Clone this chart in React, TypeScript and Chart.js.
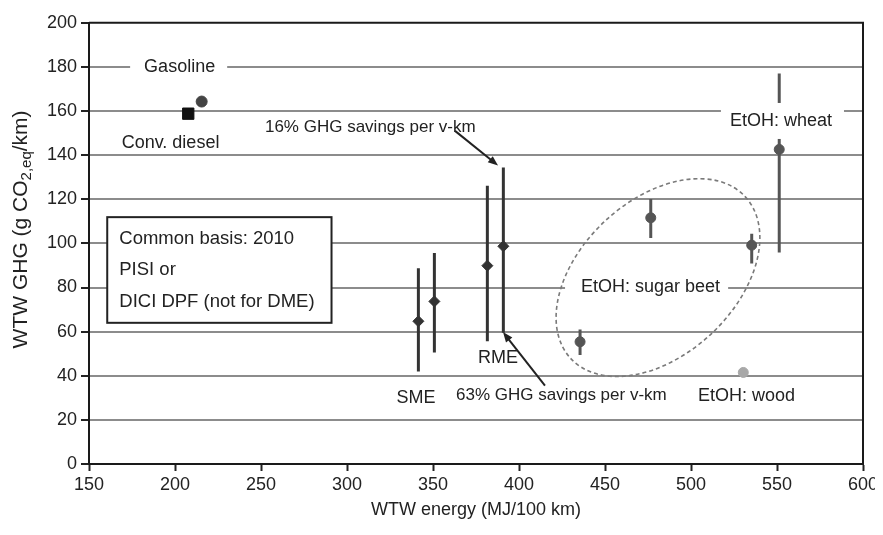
import { useEffect, useRef } from 'react';
import { Chart, registerables } from 'chart.js';

Chart.register(...registerables);

// ---- Data ----
// Biodiesel: SME (2 variants), RME (2 variants)
const bioX = [341.5, 350.8, 381.6, 390.9];
const bioY = [64.7, 73.7, 89.9, 98.7];
const bioLow = [41.9, 50.5, 55.7, 59.5];
const bioHigh = [88.7, 95.7, 126.1, 134.4];

// Ethanol: sugar beet (3 variants), wheat
const etohX = [435.5, 476.6, 535.3, 551.3];
const etohY = [55.4, 111.6, 99.2, 142.6];
const etohLow = [49.4, 102.5, 90.9, 95.9];
const etohHigh = [61.0, 120.1, 104.4, 177];

// Reference fuels and wood ethanol
const gasolineX = [215.5];
const gasolineY = [164.3];
const dieselX = [207.7];
const dieselY = [158.8];
const woodX = [530.4];
const woodY = [41.5];

// Axes
const xMin = 150, xMax = 600, xStep = 50;
const yMin = 0, yMax = 200, yStep = 20;
const xTitle = 'WTW energy (MJ/100 km)';
const yTitleMain = 'WTW GHG (g CO';
const yTitleSub = '2,eq';
const yTitleEnd = '/km)';

const legendLines = ['Common basis: 2010', 'PISI or', 'DICI DPF (not for DME)'];

const FONT = "'Liberation Sans', Arial, sans-serif";
const TXT = '#222';

type Lbl = { text: string; x: number; y: number; align?: CanvasTextAlign; size?: number; box?: boolean; padL?: number; padR?: number; padY?: number };
const labels: Lbl[] = [
  { text: 'Gasoline', x: 202.7, y: 180, box: true, padL: 14, padR: 12 },
  { text: 'Conv. diesel', x: 197.4, y: 145.6, box: true, padL: 17, padR: 7 },
  { text: '16% GHG savings per v-km', x: 252.3, y: 152.4, align: 'left', size: 17 },
  { text: '63% GHG savings per v-km', x: 363.4, y: 31, align: 'left', size: 17 },
  { text: 'SME', x: 340.1, y: 30.1 },
  { text: 'RME', x: 387.8, y: 48.1 },
  { text: 'EtOH: wheat', x: 552.3, y: 155.5, box: true, padL: 9, padR: 12, padY: 18 },
  { text: 'EtOH: sugar beet', x: 476.5, y: 80.4, box: true, padL: 16, padR: 8 },
  { text: 'EtOH: wood', x: 532.3, y: 31 },
];

const arrows = [
  { x1: 362.8, y1: 151, x2: 387.8, y2: 135.3 },
  { x1: 415.1, y1: 35.5, x2: 390.7, y2: 59.8 },
];

const legendBox = { x1: 160.6, x2: 291, y1: 111.9, y2: 64, textX: 167.6, lineY: [102.2, 88, 73.7] };
const ellipse = { cx: 480.8, cy: 84.5, rx: 119, ry: 77.5, rot: -42.9 };

function bars(xs: number[], lo: number[], hi: number[]) {
  const out: { x: number; y: number | null }[] = [];
  xs.forEach((x, i) => {
    out.push({ x, y: lo[i] }, { x, y: hi[i] }, { x, y: null });
  });
  return out;
}
function pts(xs: number[], ys: number[]) {
  return xs.map((x, i) => ({ x, y: ys[i] }));
}

const annotationPlugin = {
  id: 'annot',
  afterDatasetsDraw(chart: any) {
    const { ctx, scales, chartArea } = chart;
    const sx = (v: number) => scales.x.getPixelForValue(v);
    const sy = (v: number) => scales.y.getPixelForValue(v);
    ctx.save();
    // text labels
    labels.forEach((l) => {
      const size = l.size ?? 18;
      ctx.font = `${size}px ${FONT}`;
      const w = ctx.measureText(l.text).width;
      const px = sx(l.x);
      const py = sy(l.y);
      const align = l.align ?? 'center';
      const left = align === 'left' ? px : px - w / 2;
      if (l.box) {
        const pl = l.padL ?? 12, pr = l.padR ?? 12, pyd = l.padY ?? 10;
        ctx.fillStyle = '#fff';
        ctx.fillRect(left - pl, py - pyd, w + pl + pr, pyd * 2);
      }
      ctx.fillStyle = TXT;
      ctx.textAlign = 'left';
      ctx.textBaseline = 'middle';
      ctx.fillText(l.text, left, py);
    });
    // legend box
    const bx1 = sx(legendBox.x1), bx2 = sx(legendBox.x2);
    const by1 = sy(legendBox.y1), by2 = sy(legendBox.y2);
    ctx.fillStyle = '#fff';
    ctx.fillRect(bx1, by1, bx2 - bx1, by2 - by1);
    ctx.strokeStyle = '#222';
    ctx.lineWidth = 2;
    ctx.strokeRect(bx1, by1, bx2 - bx1, by2 - by1);
    ctx.font = `18.5px ${FONT}`;
    ctx.fillStyle = TXT;
    ctx.textAlign = 'left';
    ctx.textBaseline = 'middle';
    legendLines.forEach((t, i) => ctx.fillText(t, sx(legendBox.textX), sy(legendBox.lineY[i])));
    // ellipse
    ctx.beginPath();
    ctx.setLineDash([4, 3]);
    ctx.strokeStyle = '#7a7a7a';
    ctx.lineWidth = 1.6;
    ctx.ellipse(sx(ellipse.cx), sy(ellipse.cy), ellipse.rx, ellipse.ry, (ellipse.rot * Math.PI) / 180, 0, Math.PI * 2);
    ctx.stroke();
    ctx.setLineDash([]);
    // arrows
    arrows.forEach((a) => {
      const x1 = sx(a.x1), y1 = sy(a.y1), x2 = sx(a.x2), y2 = sy(a.y2);
      const ang = Math.atan2(y2 - y1, x2 - x1);
      ctx.strokeStyle = '#222';
      ctx.lineWidth = 2;
      ctx.beginPath();
      ctx.moveTo(x1, y1);
      ctx.lineTo(x2 - 6 * Math.cos(ang), y2 - 6 * Math.sin(ang));
      ctx.stroke();
      ctx.fillStyle = '#222';
      ctx.beginPath();
      ctx.moveTo(x2, y2);
      ctx.lineTo(x2 - 10 * Math.cos(ang) + 4 * Math.sin(ang), y2 - 10 * Math.sin(ang) - 4 * Math.cos(ang));
      ctx.lineTo(x2 - 10 * Math.cos(ang) - 4 * Math.sin(ang), y2 - 10 * Math.sin(ang) + 4 * Math.cos(ang));
      ctx.closePath();
      ctx.fill();
    });
    // frame (top and right)
    ctx.strokeStyle = '#1a1a1a';
    ctx.lineWidth = 2;
    ctx.beginPath();
    ctx.moveTo(chartArea.left, chartArea.top);
    ctx.lineTo(chartArea.right, chartArea.top);
    ctx.lineTo(chartArea.right, chartArea.bottom);
    ctx.stroke();
    // y title with subscript
    const cy = (chartArea.top + chartArea.bottom) / 2 - 14;
    ctx.translate(11, cy);
    ctx.rotate(-Math.PI / 2);
    ctx.font = `21px ${FONT}`;
    const w1 = ctx.measureText(yTitleMain).width;
    const w3 = ctx.measureText(yTitleEnd).width;
    ctx.font = `15px ${FONT}`;
    const w2 = ctx.measureText(yTitleSub).width;
    const total = w1 + w2 + w3;
    let xx = -total / 2;
    ctx.fillStyle = TXT;
    ctx.textBaseline = 'alphabetic';
    ctx.font = `21px ${FONT}`;
    ctx.fillText(yTitleMain, xx, 8);
    xx += w1;
    ctx.font = `15px ${FONT}`;
    ctx.fillText(yTitleSub, xx, 12);
    xx += w2;
    ctx.font = `21px ${FONT}`;
    ctx.fillText(yTitleEnd, xx, 8);
    ctx.restore();
  },
};

export default function App() {
  const ref = useRef<HTMLCanvasElement | null>(null);
  useEffect(() => {
    if (!ref.current) return;
    const chart = new Chart(ref.current, {
      type: 'scatter',
      data: {
        datasets: [
          {
            label: 'bio bars',
            data: bars(bioX, bioLow, bioHigh) as any,
            showLine: true,
            spanGaps: false,
            borderColor: '#333',
            borderWidth: 3,
            pointRadius: 0,
          },
          {
            label: 'etoh bars',
            data: bars(etohX, etohLow, etohHigh) as any,
            showLine: true,
            spanGaps: false,
            borderColor: '#555',
            borderWidth: 3,
            pointRadius: 0,
          },
          {
            label: 'Biodiesel',
            data: pts(bioX, bioY),
            pointStyle: 'rectRot',
            pointRadius: 5.5,
            backgroundColor: '#333',
            borderColor: '#333',
            borderWidth: 1,
          },
          {
            label: 'Ethanol',
            data: pts(etohX, etohY),
            pointStyle: 'circle',
            pointRadius: 5,
            backgroundColor: '#555',
            borderColor: '#555',
            borderWidth: 1,
          },
          {
            label: 'Gasoline',
            data: pts(gasolineX, gasolineY),
            pointStyle: 'circle',
            pointRadius: 5.5,
            backgroundColor: '#444',
            borderColor: '#444',
            borderWidth: 1,
          },
          {
            label: 'Conv. diesel',
            data: pts(dieselX, dieselY),
            pointStyle: 'rect',
            pointRadius: 8,
            backgroundColor: '#111',
            borderColor: '#111',
            borderWidth: 1,
          },
          {
            label: 'EtOH: wood',
            data: pts(woodX, woodY),
            pointStyle: 'circle',
            pointRadius: 5,
            backgroundColor: '#a8a8a8',
            borderColor: '#a8a8a8',
            borderWidth: 1,
          },
        ],
      },
      options: {
        animation: false,
        responsive: true,
        maintainAspectRatio: false,
        layout: { padding: { top: 11, right: 20, left: 0, bottom: 0 } },
        plugins: { legend: { display: false }, tooltip: { enabled: false } },
        scales: {
          x: {
            type: 'linear',
            min: xMin,
            max: xMax,
            ticks: { stepSize: xStep, color: TXT, font: { family: FONT, size: 18 }, padding: 3 },
            grid: { drawOnChartArea: false, drawTicks: true, tickLength: 7, tickColor: '#222', tickWidth: 2 },
            border: { display: true, color: '#1a1a1a', width: 2 },
            title: { display: true, text: xTitle, color: TXT, font: { family: FONT, size: 18 }, padding: { top: 0, bottom: 6 } },
            afterFit: (s: any) => { s.height = 63; },
          },
          y: {
            type: 'linear',
            min: yMin,
            max: yMax,
            ticks: { stepSize: yStep, color: TXT, font: { family: FONT, size: 18 }, padding: 4 },
            grid: {
              color: (c: any) => (c.tick && (c.tick.value === yMin || c.tick.value === yMax) ? 'rgba(0,0,0,0)' : '#8c8c8c'),
              lineWidth: 2,
              drawTicks: true,
              tickLength: 8,
              tickColor: '#222',
              tickWidth: 2,
            },
            border: { display: true, color: '#1a1a1a', width: 2 },
            afterFit: (s: any) => { s.width = 81; },
          },
        },
      },
      plugins: [annotationPlugin],
    });
    return () => chart.destroy();
  }, []);
  return (
    <div style={{ width: 875, height: 519, position: 'relative' }}>
      <canvas ref={ref} />
    </div>
  );
}
